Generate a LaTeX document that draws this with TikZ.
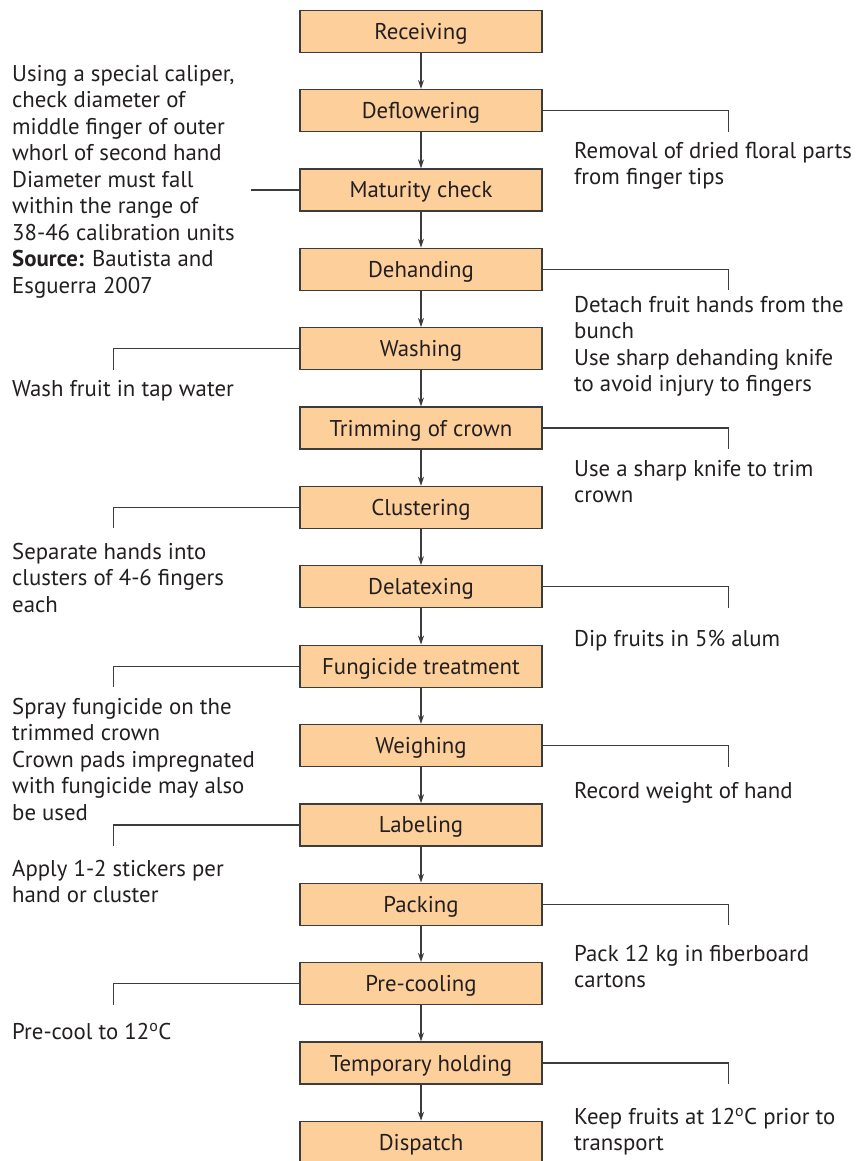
\documentclass[tikz,border=0pt]{standalone}
\usepackage{fontspec}
\setmainfont{PT Sans}
\usetikzlibrary{arrows.meta}
\definecolor{boxfill}{HTML}{FDD09B}
\definecolor{ink}{HTML}{231F20}
\definecolor{rule}{HTML}{3C3C3C}
\tikzset{
  stepbox/.style={draw=rule, line width=1.3pt, fill=boxfill, minimum width=242pt, minimum height=42pt, inner sep=0pt, text height=16pt, text depth=0pt, text=ink, font=\fontsize{22.8}{26}\selectfont},
  flow/.style={draw=rule, line width=1.1pt, -{Stealth[length=9pt,width=6pt]}},
  link/.style={draw=rule, line width=1.2pt},
  note/.style={anchor=north west, inner sep=0pt, align=left, text=ink, font=\fontsize{22.8}{26.5}\selectfont},
}
\begin{document}
\begin{tikzpicture}[x=1pt,y=-1pt]
\useasboundingbox (0,0) rectangle (858,1161);
\def\cx{421}
\foreach \name/\txt [count=\i from 0] in {
  rec/Receiving, def/Deflowering, mat/Maturity check, deh/Dehanding, was/Washing,
  tri/Trimming of crown, clu/Clustering, del/Delatexing, fun/Fungicide treatment,
  wei/Weighing, lab/Labeling, pac/Packing, pre/Pre-cooling, tem/Temporary holding, dis/Dispatch}
{
  \node[stepbox] (\name) at (\cx, {31.2+79.37*\i}) {\txt};
}
\foreach \a/\b in {rec/def, def/mat, mat/deh, deh/was, was/tri, tri/clu, clu/del, del/fun, fun/wei, wei/lab, lab/pac, pac/pre, pre/tem, tem/dis}
  \draw[flow] (\a) -- (\b);

% right-side notes
\foreach \name in {def, deh, tri, del, wei, pac, tem}{
  \coordinate (\name-r) at ([xshift=186pt]\name.east);
  \coordinate (\name-rl) at ([yshift=-21pt]\name-r);
  \draw[link] (\name.east) -- (\name-r) -- (\name-rl);
}
% left-side notes
\foreach \name in {was, clu, fun, lab, pre}{
  \coordinate (\name-l) at ([xshift=-186pt]\name.west);
  \coordinate (\name-ll) at ([yshift=-21pt]\name-l);
  \draw[link] (\name.west) -- (\name-l) -- (\name-ll);
}
\coordinate (mat-l) at ([xshift=-48pt]mat.west);
\draw[link] (mat.west) -- (mat-l);

\node[note] (n-mat) at (12, 65) {Using a special caliper,\\check diameter of\\middle finger of outer\\whorl of second hand\\Diameter must fall\\within the range of\\38-46 calibration units\\\textbf{Source:} Bautista and\\Esguerra 2007};
\node[note] (n-def) at (574, 142) {Removal of dried floral parts\\from finger tips};
\node[note] (n-deh) at (574, 296) {Detach fruit hands from the\\bunch\\Use sharp dehanding knife\\to avoid injury to fingers};
\node[note] (n-was) at (12, 380) {Wash fruit in tap water};
\node[note] (n-tri) at (574, 460) {Use a sharp knife to trim\\crown};
\node[note] (n-clu) at (12, 543) {Separate hands into\\clusters of 4-6 fingers\\each};
\node[note] (n-del) at (574, 630) {Dip fruits in 5\% alum};
\node[note] (n-fun) at (12, 698) {Spray fungicide on the\\trimmed crown\\Crown pads impregnated\\with fungicide may also\\be used};
\node[note] (n-wei) at (574, 782) {Record weight of hand};
\node[note] (n-lab) at (12, 860) {Apply 1-2 stickers per\\hand or cluster};
\node[note] (n-pac) at (574, 945) {Pack 12 kg in fiberboard\\cartons};
\node[note] (n-pre) at (12, 1023) {Pre-cool to 12\textsuperscript{o}C};
\node[note] (n-tem) at (574, 1108) {Keep fruits at 12\textsuperscript{o}C prior to\\transport};
\end{tikzpicture}
\end{document}
